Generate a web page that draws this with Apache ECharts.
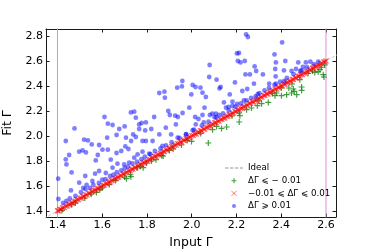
<!DOCTYPE html>
<html><head><meta charset="utf-8">
<script src="https://cdn.jsdelivr.net/npm/echarts@6/dist/echarts.min.js"></script>
<style>html,body{margin:0;padding:0;background:#fff}#c{width:374px;height:249px}</style>
</head><body><div id="c"></div>
<script>
const xTicks = [1.4, 1.6, 1.8, 2.0, 2.2, 2.4, 2.6];
const yTicks = [1.4, 1.6, 1.8, 2.0, 2.2, 2.4, 2.6, 2.8];
const xRange = [1.3486, 2.6447];
const yRange = [1.352, 2.856];
const boundaries = [1.4, 2.6];
const idealLine = [[1.3, 1.3], [2.7, 2.7]];
const seriesNames = ['Ideal', 'ΔΓ ⩽ − 0.01', '−0.01 ⩽ ΔΓ ⩽ 0.01', 'ΔΓ ⩾ 0.01'];
const axisNames = ['Input Γ', 'Fit Γ'];

const greenPts = [
[1.420,1.405],[1.463,1.451],[1.480,1.465],[1.522,1.504],[1.550,1.535],[1.574,1.549],[1.589,1.571],[1.600,1.585],[1.631,1.611],[1.660,1.645],
[1.700,1.672],[1.708,1.659],[1.728,1.675],[1.726,1.690],[1.756,1.744],[1.771,1.757],[1.783,1.747],[1.798,1.784],[1.820,1.800],[1.840,1.811],
[1.866,1.843],[1.872,1.840],[1.900,1.885],[1.917,1.896],[1.954,1.928],[1.980,1.965],[1.999,1.957],[2.040,2.020],[2.074,1.944],[2.093,2.051],
[2.111,2.077],[2.133,2.061],[2.156,2.072],[2.180,2.160],[2.212,2.184],[2.212,2.112],[2.215,2.163],[2.245,2.211],[2.267,2.224],[2.293,2.243],
[2.300,2.280],[2.312,2.259],[2.342,2.269],[2.360,2.340],[2.372,2.323],[2.379,2.344],[2.400,2.385],[2.401,2.323],[2.424,2.331],[2.446,2.344],
[2.434,2.384],[2.448,2.416],[2.454,2.376],[2.458,2.357],[2.469,2.331],[2.491,2.392],[2.491,2.365],[2.483,2.451],[2.520,2.500],[2.540,2.520],
[2.550,2.509],[2.565,2.515],[2.573,2.531],[2.580,2.550],[2.588,2.491],[2.591,2.472],[2.594,2.568]
];

const redPts = [
[1.400,1.402],[1.405,1.401],[1.411,1.414],[1.417,1.413],[1.423,1.426],[1.430,1.427],[1.436,1.439],[1.443,1.440],[1.449,1.452],[1.456,1.453],
[1.462,1.465],[1.468,1.464],[1.474,1.477],[1.481,1.478],[1.487,1.490],[1.494,1.491],[1.500,1.503],[1.507,1.503],[1.513,1.516],[1.519,1.517],
[1.526,1.529],[1.532,1.529],[1.539,1.542],[1.545,1.541],[1.552,1.555],[1.558,1.556],[1.564,1.567],[1.571,1.568],[1.577,1.580],[1.584,1.581],
[1.590,1.593],[1.596,1.593],[1.603,1.606],[1.609,1.607],[1.616,1.619],[1.622,1.618],[1.628,1.631],[1.635,1.632],[1.641,1.644],[1.648,1.645],
[1.654,1.657],[1.661,1.658],[1.667,1.670],[1.673,1.671],[1.680,1.683],[1.686,1.682],[1.693,1.696],[1.699,1.697],[1.705,1.708],[1.712,1.709],
[1.718,1.721],[1.725,1.722],[1.731,1.734],[1.737,1.735],[1.744,1.747],[1.750,1.746],[1.757,1.760],[1.763,1.761],[1.770,1.773],[1.776,1.773],
[1.782,1.785],[1.789,1.786],[1.795,1.798],[1.802,1.799],[1.808,1.811],[1.814,1.812],[1.821,1.824],[1.827,1.823],[1.834,1.837],[1.840,1.838],
[1.846,1.849],[1.853,1.850],[1.859,1.862],[1.866,1.863],[1.872,1.875],[1.878,1.876],[1.885,1.888],[1.891,1.887],[1.898,1.901],[1.904,1.902],
[1.911,1.914],[1.917,1.914],[1.923,1.926],[1.930,1.927],[1.936,1.939],[1.943,1.941],[1.949,1.952],[1.955,1.951],[1.962,1.965],[1.968,1.966],
[1.975,1.978],[1.981,1.978],[1.987,1.990],[1.994,1.991],[2.000,2.003],[2.007,2.005],[2.013,2.016],[2.020,2.016],[2.026,2.029],[2.032,2.030],
[2.039,2.042],[2.045,2.042],[2.052,2.055],[2.058,2.055],[2.064,2.067],[2.071,2.069],[2.077,2.080],[2.084,2.080],[2.090,2.093],[2.096,2.094],
[2.103,2.106],[2.109,2.106],[2.116,2.119],[2.122,2.119],[2.129,2.132],[2.135,2.133],[2.141,2.144],[2.148,2.144],[2.154,2.157],[2.161,2.158],
[2.167,2.170],[2.173,2.171],[2.180,2.183],[2.186,2.183],[2.193,2.196],[2.199,2.197],[2.205,2.208],[2.212,2.208],[2.218,2.221],[2.225,2.222],
[2.231,2.234],[2.238,2.235],[2.244,2.247],[2.250,2.247],[2.257,2.260],[2.263,2.261],[2.270,2.273],[2.276,2.272],[2.282,2.285],[2.289,2.286],
[2.295,2.298],[2.302,2.299],[2.308,2.311],[2.314,2.311],[2.321,2.324],[2.327,2.325],[2.334,2.337],[2.340,2.336],[2.346,2.349],[2.353,2.350],
[2.359,2.362],[2.366,2.363],[2.372,2.375],[2.379,2.375],[2.385,2.388],[2.391,2.389],[2.398,2.401],[2.404,2.400],[2.411,2.414],[2.417,2.414],
[2.423,2.426],[2.430,2.428],[2.436,2.439],[2.443,2.439],[2.449,2.452],[2.455,2.453],[2.462,2.465],[2.468,2.464],[2.475,2.478],[2.481,2.478],
[2.487,2.490],[2.494,2.492],[2.500,2.503],[2.507,2.503],[2.513,2.516],[2.519,2.517],[2.526,2.529],[2.532,2.528],[2.539,2.542],[2.545,2.542],
[2.551,2.554],[2.558,2.556],[2.564,2.567],[2.571,2.567],[2.577,2.580],[2.583,2.581],[2.590,2.593],[2.596,2.593],[2.600,2.601]
];

const bluePts = [
[2.243,2.813],[2.251,2.792],[2.404,2.749],[2.202,2.661],[2.211,2.664],[2.370,2.653],[2.206,2.600],[2.218,2.589],[2.237,2.600],[2.376,2.589],
[2.418,2.600],[2.476,2.589],[2.510,2.589],[2.530,2.595],[2.080,2.568],[2.281,2.557],[2.497,2.552],[2.288,2.520],[2.240,2.493],[2.260,2.493],
[2.318,2.493],[2.373,2.536],[2.412,2.525],[2.446,2.520],[2.466,2.536],[2.078,2.472],[2.111,2.451],[1.958,2.440],[2.375,2.477],[2.485,2.520],
[2.004,2.408],[2.017,2.392],[2.039,2.387],[1.935,2.387],[1.956,2.397],[2.193,2.429],[2.129,2.392],[2.124,2.381],[1.855,2.344],[1.878,2.355],
[1.880,2.307],[1.998,2.333],[2.048,2.347],[2.063,2.312],[2.226,2.360],[2.248,2.376],[2.278,2.419],[2.346,2.419],[2.376,2.419],[2.413,2.440],
[2.170,2.333],[1.989,2.227],[2.057,2.227],[2.092,2.179],[2.108,2.179],[2.153,2.227],[2.165,2.232],[1.743,2.195],[1.728,2.189],[1.895,2.200],
[1.902,2.168],[1.938,2.152],[2.233,2.285],[2.285,2.316],[2.302,2.343],[2.182,2.275],[2.144,2.269],[2.182,2.240],[2.203,2.256],[1.610,2.152],
[1.625,2.099],[1.646,2.088],[1.750,2.147],[1.765,2.093],[1.776,2.104],[1.795,2.109],[1.832,2.152],[2.030,2.136],[1.926,2.163],[1.959,2.184],
[2.015,2.152],[2.048,2.168],[2.123,2.168],[1.929,2.093],[1.884,2.067],[2.018,2.093],[2.054,2.109],[2.081,2.168],[2.102,2.150],[1.819,2.056],
[1.676,2.056],[1.700,2.077],[1.765,2.056],[1.476,2.061],[1.519,1.971],[1.536,1.965],[1.553,1.933],[1.622,1.987],[1.586,1.928],[1.664,2.008],
[1.706,1.987],[1.738,2.013],[1.750,1.992],[1.792,2.045],[1.795,1.960],[1.825,1.960],[1.855,2.013],[1.908,2.013],[1.937,1.987],[1.974,2.013],
[2.004,2.047],[1.729,1.960],[1.780,1.960],[1.437,1.960],[1.497,1.875],[1.512,1.885],[1.527,1.869],[1.601,1.891],[1.625,1.891],[1.664,1.864],
[1.685,1.880],[1.703,1.917],[1.717,1.896],[1.743,1.827],[1.758,1.853],[1.780,1.875],[1.810,1.859],[1.869,1.921],[1.452,1.848],[1.437,1.813],
[1.440,1.773],[1.580,1.848],[1.638,1.811],[1.571,1.805],[1.463,1.709],[1.403,1.659],[1.568,1.699],[1.524,1.680],[1.556,1.640],[1.668,1.779],
[1.698,1.773],[1.720,1.787],[1.646,1.747],[1.586,1.720],[1.616,1.704],[1.460,1.565],[1.404,1.496],[1.440,1.480],[1.515,1.585],[1.530,1.608],
[1.497,1.627],
[1.425,1.465],[1.455,1.500],[1.480,1.520],[1.505,1.550],[1.525,1.575],[1.545,1.585],[1.560,1.610],[1.585,1.625],[1.600,1.650],[1.615,1.655],
[1.635,1.680],[1.650,1.690],[1.665,1.710],[1.685,1.725],[1.700,1.745],[1.715,1.755],[1.735,1.780],[1.755,1.795],[1.775,1.815],[1.790,1.835],
[1.815,1.855],[1.835,1.880],[1.860,1.900],[1.885,1.925],[1.910,1.950],[1.945,1.985],[1.975,2.015],[2.010,2.050],[2.045,2.085],[2.075,2.115],
[2.110,2.150],[2.140,2.180],[2.165,2.205],[2.195,2.235],[2.220,2.260],[2.245,2.285],[2.265,2.305],[2.295,2.335],[2.325,2.365],[2.345,2.385],
[2.370,2.410],[2.395,2.435],[2.425,2.465],[2.455,2.495],[2.490,2.525],[2.515,2.550],[2.545,2.575],[2.565,2.595]
];

const FONT = 'DejaVu Sans';
const plusPath = 'path://M5,0L5,10M0,5L10,5';
const crossPath = 'path://M0,0L10,10M10,0L0,10';
const dotIcon = 'path://M0,0M10,10M9,5A4,4,0,1,1,1,5A4,4,0,1,1,9,5Z';

function makeX(pos, showLabel) {
  return {
    type: 'value', position: pos, min: xRange[0], max: xRange[1],
    axisLine: { show: true, onZero: false, lineStyle: { color: '#1a1a1a', width: 1 } },
    axisTick: { show: true, inside: true, length: 3.5, customValues: xTicks, lineStyle: { color: '#1a1a1a', width: 1 } },
    axisLabel: { show: showLabel, customValues: xTicks, formatter: v => v.toFixed(1), fontSize: 11, fontFamily: FONT, color: '#000', margin: 3 },
    splitLine: { show: false },
    name: showLabel ? axisNames[0] : '', nameLocation: 'middle', nameGap: 16,
    nameTextStyle: { fontSize: 12.5, fontFamily: FONT, color: '#000' }
  };
}
function makeY(pos, showLabel) {
  return {
    type: 'value', position: pos, min: yRange[0], max: yRange[1],
    axisLine: { show: true, onZero: false, lineStyle: { color: '#1a1a1a', width: 1 } },
    axisTick: { show: true, inside: true, length: 3.5, customValues: yTicks, lineStyle: { color: '#1a1a1a', width: 1 } },
    axisLabel: { show: showLabel, customValues: yTicks, formatter: v => v.toFixed(1), fontSize: 11, fontFamily: FONT, color: '#000', margin: 3 },
    splitLine: { show: false },
    name: showLabel ? axisNames[1] : '', nameLocation: 'middle', nameGap: 21, nameRotate: 90,
    nameTextStyle: { fontSize: 12.5, fontFamily: FONT, color: '#000' }
  };
}

const chart = echarts.init(document.getElementById('c'), null, { renderer: 'canvas' });
chart.setOption({
  animation: false,
  backgroundColor: '#fff',
  grid: { left: 46, right: 38, top: 29, bottom: 32, containLabel: false, outerBoundsMode: 'none' },
  xAxis: [makeX('bottom', true), makeX('top', false)],
  yAxis: [makeY('left', true), makeY('right', false)],
  legend: {
    orient: 'vertical', left: 219, top: 158,
    itemWidth: 18, itemHeight: 5, itemGap: 2.7,
    selectedMode: false,
    textStyle: { fontSize: 8.7, fontFamily: FONT, color: '#000', lineHeight: 10 },
    data: [
      { name: seriesNames[0], itemStyle: { color: 'rgba(0,0,0,0)', borderWidth: 0, opacity: 0 } },
      { name: seriesNames[1], itemStyle: { borderWidth: 1.1 } },
      { name: seriesNames[2], itemStyle: { borderWidth: 0.9 } },
      { name: seriesNames[3], icon: dotIcon, itemStyle: { borderWidth: 0 } }
    ]
  },
  series: boundaries.map(b => ({
    type: 'line', data: [[b, 1.0], [b, 3.0]], symbol: 'none', silent: true,
    lineStyle: { color: '#dc8cdc', width: 1 }, z: 1
  })).concat([
    {
      name: seriesNames[0], type: 'line', data: idealLine, symbol: 'none', clip: true,
      lineStyle: { color: '#cccccc', width: 1, type: [3.5, 1.5] }, z: 2
    },
    {
      name: seriesNames[1], type: 'scatter', data: greenPts, symbol: plusPath, symbolSize: 6,
      symbolKeepAspect: true,
      itemStyle: { color: 'rgba(0,128,0,0.75)', borderColor: 'rgba(0,128,0,0.75)', borderWidth: 1.2, opacity: 1 }, z: 3
    },
    {
      name: seriesNames[2], type: 'scatter', data: redPts, symbol: crossPath, symbolSize: 5,
      symbolKeepAspect: true,
      itemStyle: { color: 'rgba(255,0,0,0.6)', borderColor: 'rgba(255,0,0,0.6)', borderWidth: 1.2, opacity: 1 }, z: 4
    },
    {
      name: seriesNames[3], type: 'scatter', data: bluePts, symbol: 'circle', symbolSize: 4.8,
      symbolKeepAspect: true,
      itemStyle: { color: 'rgba(0,0,255,0.5)', opacity: 1 }, z: 5
    }
  ])
});
</script></body></html>
